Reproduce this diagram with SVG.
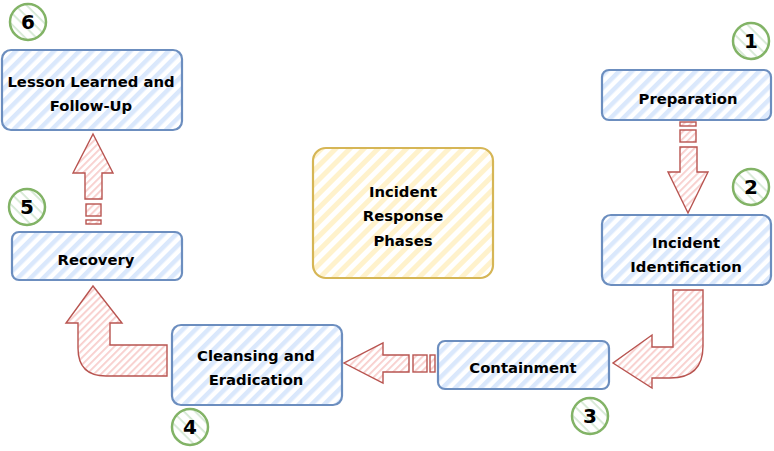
<svg xmlns="http://www.w3.org/2000/svg" width="774" height="451" viewBox="0 0 774 451">
<defs>
<pattern id="hb" patternUnits="userSpaceOnUse" width="9" height="9" patternTransform="rotate(-45)"><rect width="9" height="9" fill="#ffffff"/><rect width="9" height="4.5" fill="#dae8fc"/></pattern>
<pattern id="hy" patternUnits="userSpaceOnUse" width="10" height="10" patternTransform="rotate(-45)"><rect width="10" height="10" fill="#ffffff"/><rect width="10" height="5" fill="#fff2cc"/></pattern>
<pattern id="hr" patternUnits="userSpaceOnUse" width="5" height="5" patternTransform="rotate(-45)"><rect width="5" height="5" fill="#ffffff"/><rect width="5" height="1.8" fill="#f8cecc"/></pattern>
<pattern id="hg" patternUnits="userSpaceOnUse" width="8" height="8" patternTransform="rotate(45)"><rect width="8" height="8" fill="#ffffff"/><rect width="8" height="1.8" fill="#d5e8d4"/></pattern>
</defs>
<style>
.n{fill:url(#hb);stroke:#6c8ebf;stroke-width:2.2}
.y{fill:url(#hy);stroke:#d6b656;stroke-width:2.2}
.a{fill:url(#hr);stroke:#b85450;stroke-width:1.4;stroke-linejoin:miter}
.c{fill:url(#hg);stroke:#82b366;stroke-width:2.5}
text{font-family:"DejaVu Sans",Verdana,sans-serif;font-weight:bold;font-size:14.8px;fill:#000;text-anchor:middle}
.num{font-size:20px}
</style>
<rect width="774" height="451" fill="#ffffff"/>
<g id="connectors">
<rect class="a" x="680" y="122" width="16" height="4"/>
<rect class="a" x="680" y="130" width="16" height="12"/>
<path class="a" d="M680,147 L697,147 L697,172 L708,172 L688,213 L668,172 L680,172 Z"/>
<path class="a" d="M673,290 L703,290 L703,346 Q703,378 670,378 L652,378 L652,388 L613,363 L652,335 L652,347 L673,347 Z"/>
<rect class="a" x="430" y="355" width="5" height="17"/>
<rect class="a" x="413" y="355" width="14" height="17"/>
<path class="a" d="M409,355 L409,372 L383,372 L383,383 L344,363 L383,343 L383,355 Z"/>
<path class="a" d="M167,345 L110,345 L110,323 L122,323 L93,286 L66,323 L78,323 L78,348 Q78,376 106,376 L167,376 Z"/>
<rect class="a" x="86" y="220" width="15" height="4"/>
<rect class="a" x="86" y="204" width="15" height="12"/>
<path class="a" d="M85,199 L102,199 L102,173 L113,173 L93,134 L73,173 L85,173 Z"/>
</g>
<g id="lesson"><rect class="n" x="2" y="50" width="180" height="80" rx="9"/><text x="91" y="87">Lesson Learned and</text><text x="91" y="111">Follow-Up</text></g>
<g id="preparation"><rect class="n" x="602" y="70" width="169" height="50" rx="7"/><text x="688" y="104">Preparation</text></g>
<g id="identification"><rect class="n" x="602" y="215" width="169" height="70" rx="9"/><text x="686" y="248">Incident</text><text x="686" y="272">Identification</text></g>
<g id="containment"><rect class="n" x="438" y="341" width="171" height="48" rx="7"/><text x="523" y="373">Containment</text></g>
<g id="cleansing"><rect class="n" x="172" y="325" width="170" height="80" rx="9"/><text x="256" y="361">Cleansing and</text><text x="256" y="385">Eradication</text></g>
<g id="recovery"><rect class="n" x="12" y="232" width="170" height="48" rx="7"/><text x="96" y="265">Recovery</text></g>
<g id="phases"><rect class="y" x="313" y="148" width="180" height="130" rx="13"/><text x="403" y="197">Incident</text><text x="403" y="221">Response</text><text x="403" y="246">Phases</text></g>
<g id="c1"><circle class="c" cx="751" cy="41" r="18"/><text class="num" x="751" y="48">1</text></g>
<g id="c2"><circle class="c" cx="751" cy="187" r="18"/><text class="num" x="751" y="194">2</text></g>
<g id="c3"><circle class="c" cx="590" cy="416" r="18"/><text class="num" x="590" y="423">3</text></g>
<g id="c4"><circle class="c" cx="190" cy="427" r="18"/><text class="num" x="190" y="434">4</text></g>
<g id="c5"><circle class="c" cx="27" cy="207" r="18"/><text class="num" x="27" y="214">5</text></g>
<g id="c6"><circle class="c" cx="28" cy="22" r="18"/><text class="num" x="28" y="29">6</text></g>
</svg>
